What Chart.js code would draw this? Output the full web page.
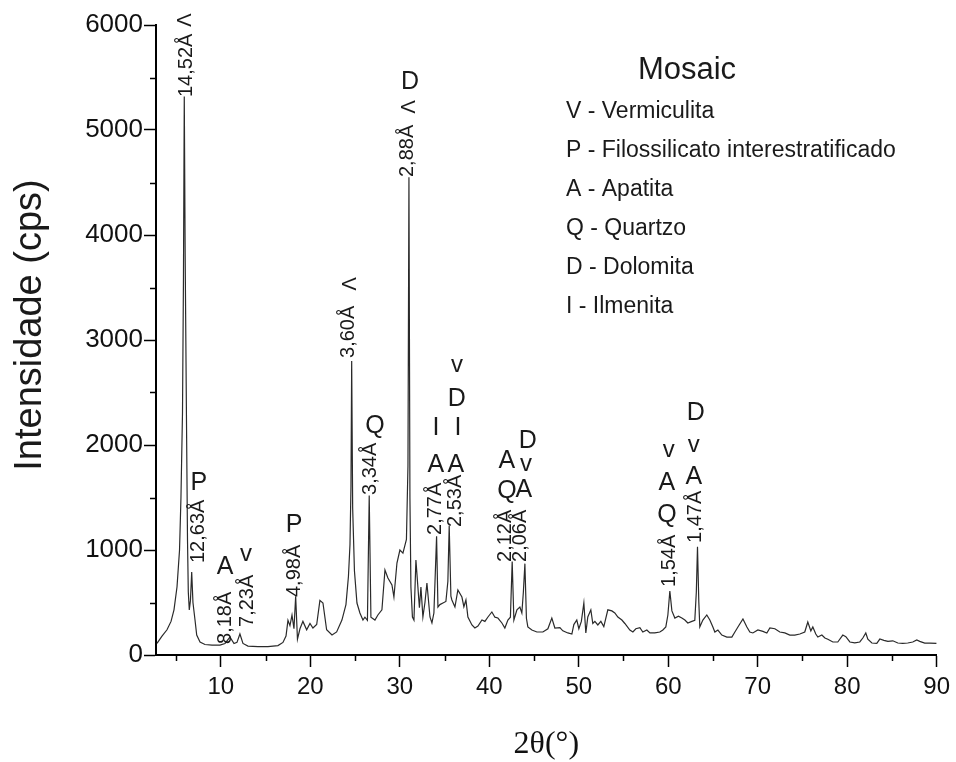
<!DOCTYPE html>
<html>
<head>
<meta charset="utf-8">
<script src="https://cdn.jsdelivr.net/npm/chart.js@4/dist/chart.umd.min.js"></script>
<style>
  html, body { margin: 0; padding: 0; background: #fff; }
  canvas { display: block; }
</style>
</head>
<body>
<canvas id="xrd" width="956" height="762"></canvas>
<script>
// diffractogram: 2theta (deg) and intensity (cps)
const twoTheta = [
  2.86, 3.42, 3.98, 4.43, 4.76, 5.10, 5.38, 5.54, 5.71, 5.82,
  5.91, 6.01, 6.16, 6.27, 6.36, 6.47, 6.60, 6.74, 6.88, 7.11,
  7.30, 7.67, 8.22, 9.01, 9.90, 10.46, 11.02, 11.47, 11.80, 12.13,
  12.47, 13.03, 14.15, 15.26, 16.38, 16.94, 17.28, 17.50, 17.72, 17.95,
  18.17, 18.36, 18.56, 18.84, 19.17, 19.59, 19.96, 20.29, 20.71, 21.07,
  21.41, 21.82, 22.42, 22.94, 23.53, 23.98, 24.26, 24.43, 24.54, 24.62,
  24.73, 24.93, 25.21, 25.54, 25.88, 26.10, 26.38, 26.58, 26.77, 27.22,
  27.55, 28.00, 28.34, 28.67, 29.12, 29.34, 29.68, 30.01, 30.35, 30.74,
  30.91, 31.02, 31.13, 31.24, 31.41, 31.58, 31.80, 32.02, 32.19, 32.36,
  32.58, 32.81, 33.03, 33.37, 33.59, 33.81, 34.11, 34.26, 34.48, 34.82,
  35.15, 35.37, 35.52, 35.71, 35.82, 36.16, 36.49, 36.94, 37.16, 37.39,
  37.61, 38.06, 38.39, 38.73, 39.18, 39.51, 39.85, 40.29, 40.63, 40.96,
  41.41, 41.74, 42.08, 42.36, 42.56, 42.75, 43.09, 43.42, 43.64, 43.81,
  43.98, 44.15, 44.31, 44.76, 45.32, 45.99, 46.55, 46.99, 47.33, 47.89,
  48.22, 48.78, 49.23, 49.45, 49.78, 50.01, 50.29, 50.57, 50.79, 51.01,
  51.35, 51.57, 51.80, 52.13, 52.47, 52.80, 53.25, 53.70, 54.03, 54.37,
  54.82, 55.15, 55.71, 56.05, 56.38, 56.83, 57.16, 57.61, 57.95, 58.50,
  59.06, 59.40, 59.73, 59.96, 60.18, 60.41, 60.74, 61.14, 61.52, 61.86,
  62.19, 62.64, 62.97, 63.14, 63.27, 63.42, 63.53, 63.87, 64.31, 64.65,
  64.99, 65.21, 65.55, 65.99, 66.55, 67.11, 67.45, 67.79, 68.35, 68.79,
  69.12, 69.46, 70.02, 70.58, 71.02, 71.36, 71.92, 72.47, 73.03, 73.59,
  74.15, 74.71, 75.26, 75.60, 75.94, 76.16, 76.49, 76.72, 77.17, 77.51,
  77.84, 78.40, 78.95, 79.51, 79.85, 80.30, 80.85, 81.41, 81.75, 82.08,
  82.31, 82.76, 83.31, 83.65, 84.10, 84.55, 85.10, 85.66, 86.22, 86.77,
  87.33, 87.78, 88.11, 88.67, 89.23, 90.00
];
const intensity = [
  110, 180, 240, 320, 430, 650, 1000, 1500, 2300, 3600,
  5320, 3800, 2200, 1100, 600, 430, 520, 790, 500, 333,
  190, 124, 100, 95, 95, 110, 170, 110, 120, 200,
  110, 85, 80, 80, 90, 120, 180, 330, 280, 380,
  250, 560, 150, 250, 320, 240, 300, 257, 290, 520,
  495, 240, 190, 220, 333, 480, 750, 1050, 1600, 2800,
  1400, 800, 495, 400, 333, 360, 330, 1520, 360, 333,
  381, 430, 810, 733, 667, 552, 876, 1000, 970, 1100,
  1800, 4550, 1500, 648, 362, 333, 905, 648, 450, 648,
  362, 500, 686, 362, 305, 400, 1130, 457, 480, 495,
  510, 700, 1230, 560, 524, 457, 619, 552, 460, 524,
  362, 286, 257, 275, 333, 320, 362, 410, 360, 352,
  305, 257, 333, 360, 890, 333, 430, 457, 400, 600,
  870, 350, 267, 238, 219, 219, 250, 352, 257, 260,
  230, 210, 200, 290, 333, 250, 320, 495, 210, 362,
  430, 300, 320, 286, 320, 270, 430, 420, 400, 362,
  333, 300, 238, 219, 250, 260, 219, 238, 210, 210,
  219, 238, 267, 381, 610, 420, 352, 370, 352, 333,
  305, 320, 330, 600, 1030, 500, 267, 333, 381, 333,
  267, 219, 238, 190, 170, 170, 219, 267, 343, 267,
  219, 210, 238, 225, 210, 257, 250, 219, 210, 190,
  190, 200, 219, 314, 230, 267, 200, 171, 190, 162,
  150, 124, 124, 190, 175, 124, 115, 124, 162, 210,
  150, 114, 110, 152, 140, 130, 135, 114, 110, 114,
  124, 143, 130, 114, 114, 110
];

// d-spacing labels (rotated), anchored at their lower end
const dText  = ['14,52Å', '12,63Å', '8,18Å', '7,23Å', '4,98Å', '3,60Å', '3,34Å', '2,88Å', '2,77Å', '2,53Å', '2,12Å', '2,06Å', '1,54Å', '1,47Å'];
const dTheta = [6.10, 7.44, 10.35, 12.81, 18.17, 24.20, 26.66, 30.79, 33.92, 36.16, 41.74, 43.42, 60.07, 62.97];
const dBase  = [5314, 876, 105, 267, 552, 2829, 1524, 4552, 1143, 1219, 886, 886, 648, 1067];

// phase letters above the peaks ('<' = V written sideways)
const phaseText  = ['<', 'P', 'A', 'v', 'P', '<', 'Q', '<', 'D', 'A', 'I', 'A', 'I', 'D', 'v', 'Q', 'A', 'A', 'v', 'D', 'Q', 'A', 'v', 'A', 'v', 'D'];
const phaseTheta = [5.88, 7.55, 10.46, 12.81, 18.17, 24.31, 27.22, 30.91, 31.13, 34.04, 34.04, 36.27, 36.49, 36.38, 36.38, 41.97, 41.97, 43.87, 44.09, 44.31, 59.85, 59.85, 60.07, 62.86, 62.86, 63.08];
const phaseY     = [6047, 1648, 848, 943, 1248, 3533, 2190, 5219, 5467, 1819, 2171, 1819, 2171, 2448, 2743, 1571, 1857, 1581, 1800, 2048, 1343, 1648, 1933, 1705, 1981, 2314];

const legendTitle = 'Mosaic';
const legendLines = ['V - Vermiculita', 'P - Filossilicato interestratificado', 'A - Apatita', 'Q - Quartzo', 'D - Dolomita', 'I - Ilmenita'];
const yTitle = 'Intensidade (cps)';

const SANS = '"Liberation Sans", Arial, sans-serif';

const minorTicks = {
  id: 'minorTicks',
  afterDraw(chart) {
    const { ctx, chartArea, scales: { x, y } } = chart;
    ctx.save();
    ctx.strokeStyle = '#000';
    ctx.lineWidth = 1.5;
    ctx.beginPath();
    for (let v = 5; v < 90; v += 10) {
      const px = Math.round(x.getPixelForValue(v)) + 0.5;
      ctx.moveTo(px, chartArea.bottom);
      ctx.lineTo(px, chartArea.bottom + 6);
    }
    for (let v = 500; v < 6000; v += 1000) {
      const py = Math.round(y.getPixelForValue(v)) + 0.5;
      ctx.moveTo(chartArea.left, py);
      ctx.lineTo(chartArea.left - 6, py);
    }
    ctx.stroke();
    ctx.restore();
  }
};

const annotate = {
  id: 'annotate',
  afterDraw(chart) {
    const { ctx, scales: { x, y } } = chart;
    ctx.save();
    ctx.fillStyle = '#1a1a1a';

    // y axis title, drawn by hand so it can sit where the original has it
    ctx.save();
    ctx.translate(31, 325);
    ctx.rotate(-Math.PI / 2);
    ctx.textAlign = 'center';
    ctx.textBaseline = 'middle';
    ctx.font = '38px ' + SANS;
    ctx.fillText(yTitle, 0, 0);
    ctx.restore();

    ctx.font = '20px ' + SANS;
    ctx.textAlign = 'left';
    ctx.textBaseline = 'middle';
    dText.forEach((t, i) => {
      ctx.save();
      ctx.translate(x.getPixelForValue(dTheta[i]), y.getPixelForValue(dBase[i]));
      ctx.rotate(-Math.PI / 2);
      ctx.fillText(t, 0, 1);
      ctx.restore();
    });

    ctx.textAlign = 'center';
    phaseText.forEach((t, i) => {
      const px = x.getPixelForValue(phaseTheta[i]);
      const py = y.getPixelForValue(phaseY[i]);
      if (t === '<') {
        ctx.save();
        ctx.translate(px, py);
        ctx.rotate(Math.PI / 2);
        ctx.font = '20px ' + SANS;
        ctx.fillText('V', 0, 1);
        ctx.restore();
      } else if (t === 'v') {
        ctx.font = '24px ' + SANS;
        ctx.fillText('v', px, py - 2);
      } else {
        ctx.font = '25px ' + SANS;
        ctx.fillText(t, px, py + 1);
      }
    });

    // legend block
    ctx.textAlign = 'center';
    ctx.font = '31px ' + SANS;
    ctx.fillText(legendTitle, 687, 70);
    ctx.textAlign = 'left';
    ctx.font = '23px ' + SANS;
    legendLines.forEach((t, i) => ctx.fillText(t, 566, 112 + i * 39));
    ctx.restore();
  }
};

new Chart(document.getElementById('xrd'), {
  type: 'line',
  data: {
    datasets: [{
      data: twoTheta.map((t, i) => ({ x: t, y: intensity[i] })),
      borderColor: '#2a2a2a',
      borderWidth: 1.2,
      pointRadius: 0,
      tension: 0,
      fill: false
    }]
  },
  options: {
    responsive: false,
    animation: false,
    layout: { padding: { top: 25, right: 19, left: 0, bottom: 0 } },
    plugins: {
      legend: { display: false },
      tooltip: { enabled: false }
    },
    scales: {
      x: {
        type: 'linear',
        min: 2.75,
        max: 90,
        afterFit(scale) { scale.height = 107; },
        ticks: {
          stepSize: 10,
          includeBounds: false,
          color: '#111',
          padding: 6,
          maxRotation: 0,
          font: { family: SANS, size: 24 }
        },
        grid: { drawOnChartArea: false, tickLength: 12, tickColor: '#000', tickWidth: 1.5 },
        border: { display: true, color: '#000', width: 2 },
        title: {
          display: true,
          text: '2θ(°)',
          color: '#111',
          padding: { top: 0, bottom: 1 },
          font: { family: '"Liberation Serif", "Times New Roman", serif', size: 32, lineHeight: 1 }
        }
      },
      y: {
        min: 0,
        max: 6000,
        afterFit(scale) { scale.width = 156; },
        ticks: {
          stepSize: 1000,
          color: '#111',
          padding: 1,
          font: { family: SANS, size: 26 },
          callback: (v) => String(v)
        },
        grid: { drawOnChartArea: false, tickLength: 12, tickColor: '#000', tickWidth: 1.5 },
        border: { display: true, color: '#000', width: 2 }
      }
    }
  },
  plugins: [minorTicks, annotate]
});
</script>
</body>
</html>
